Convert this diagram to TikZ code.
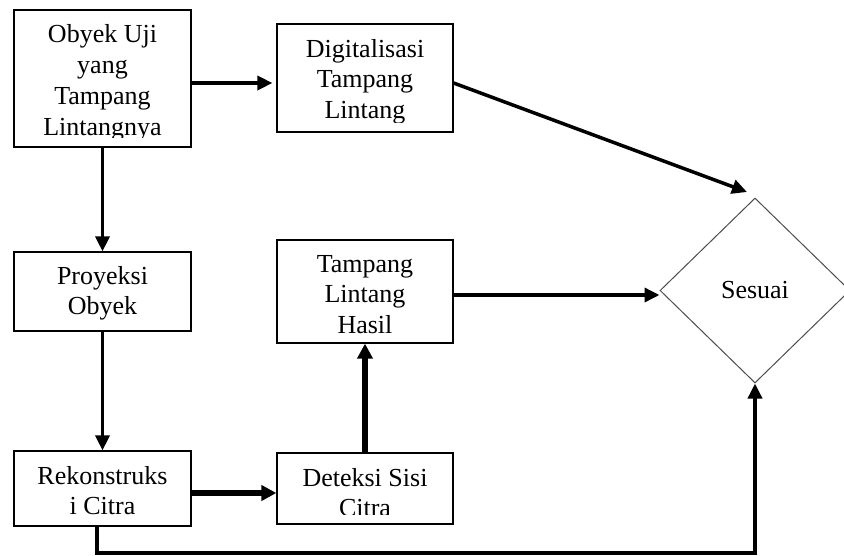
\documentclass[tikz,border=0pt]{standalone}
\usepackage{fontspec}
\setmainfont{Liberation Serif}
\usetikzlibrary{shapes.geometric,arrows.meta}
\newcommand\mlines[1]{\begin{tabular}[t]{@{}c@{}}#1\end{tabular}}
\begin{document}
\begin{tikzpicture}[x=1pt,y=-1pt,
  boxs/.style={draw=black,line width=1.2pt,rectangle,inner sep=0pt},
  lbl/.style={anchor=base,inner sep=0pt,font=\fontsize{26}{30.5}\selectfont},
  conn/.style={line width=3.5pt,-{Triangle[length=15pt,width=14pt]}},
  connthick/.style={line width=5.5pt,-{Triangle[length=15pt,width=15pt]}},
  decision/.style={diamond,draw=black!70,line width=1pt,inner sep=0pt,
    minimum width=190pt,minimum height=185pt,font=\fontsize{26}{30}\selectfont}
]
\useasboundingbox (0,0) rectangle (844,555);

% boxes
\node[boxs,minimum width=177pt,minimum height=137pt] (A) at (102.5,78.5) {};
\node[boxs,minimum width=176pt,minimum height=108pt] (B) at (365,78) {};
\node[boxs,minimum width=177pt,minimum height=79pt]  (C) at (102.5,291.5) {};
\node[boxs,minimum width=176pt,minimum height=103pt] (D) at (365,291.5) {};
\node[boxs,minimum width=177pt,minimum height=75pt]  (E) at (102.5,488.5) {};
\node[boxs,minimum width=176pt,minimum height=71pt]  (F) at (365,488.5) {};
\node[decision] (S) at (755,290.5) {Sesuai};

% texts, clipped inside their boxes
\begin{scope}
\clip (A.south west) ++(2,-10) rectangle (A.north east);
\node[lbl,font=\fontsize{26}{31}\selectfont] (At) at (102.5,42) {\mlines{Obyek Uji\\yang\\Tampang\\Lintangnya}};
\end{scope}
\begin{scope}
\clip (B.south west) ++(2,-10) rectangle (B.north east);
\node[lbl] (Bt) at (365,57) {\mlines{Digitalisasi\\Tampang\\Lintang}};
\end{scope}
\begin{scope}
\clip (C.south west) ++(2,-10) rectangle (C.north east);
\node[lbl] (Ct) at (102.5,284) {\mlines{Proyeksi\\Obyek}};
\end{scope}
\begin{scope}
\clip (D.south west) ++(2,-10) rectangle (D.north east);
\node[lbl] (Dt) at (365,272) {\mlines{Tampang\\Lintang\\Hasil}};
\end{scope}
\begin{scope}
\clip (E.south west) ++(2,-10) rectangle (E.north east);
\node[lbl] (Et) at (102.5,484) {\mlines{Rekonstruks\\i Citra}};
\end{scope}
\begin{scope}
\clip (F.south west) ++(2,-10) rectangle (F.north east);
\node[lbl] (Ft) at (365,486) {\mlines{Deteksi Sisi\\Citra}};
\end{scope}

% helper coordinates
\coordinate (yab) at (0,83);
\coordinate (yef) at (0,493);
\coordinate (yds) at (0,295);
\coordinate (ybot) at (0,553);
\coordinate (xe) at (97,0);
\coordinate (tipBS) at (747,192);

% connectors
\draw[conn,shorten >=4pt] (A.east |- yab) -- (B.west |- yab);
\draw[conn] (A.south) -- (C.north);
\draw[conn] (C.south) -- (E.north);
\draw[connthick] (E.east |- yef) -- (F.west |- yef);
\draw[connthick] (F.north) -- (D.south);
\draw[conn] (D.east |- yds) -- (S.west |- yds);
\draw[conn] (B.east |- yab) -- (tipBS);
\draw[conn] (xe |- E.south) -- (xe |- ybot) -- (S.south |- ybot) -- (S.south);
\end{tikzpicture}
\end{document}
